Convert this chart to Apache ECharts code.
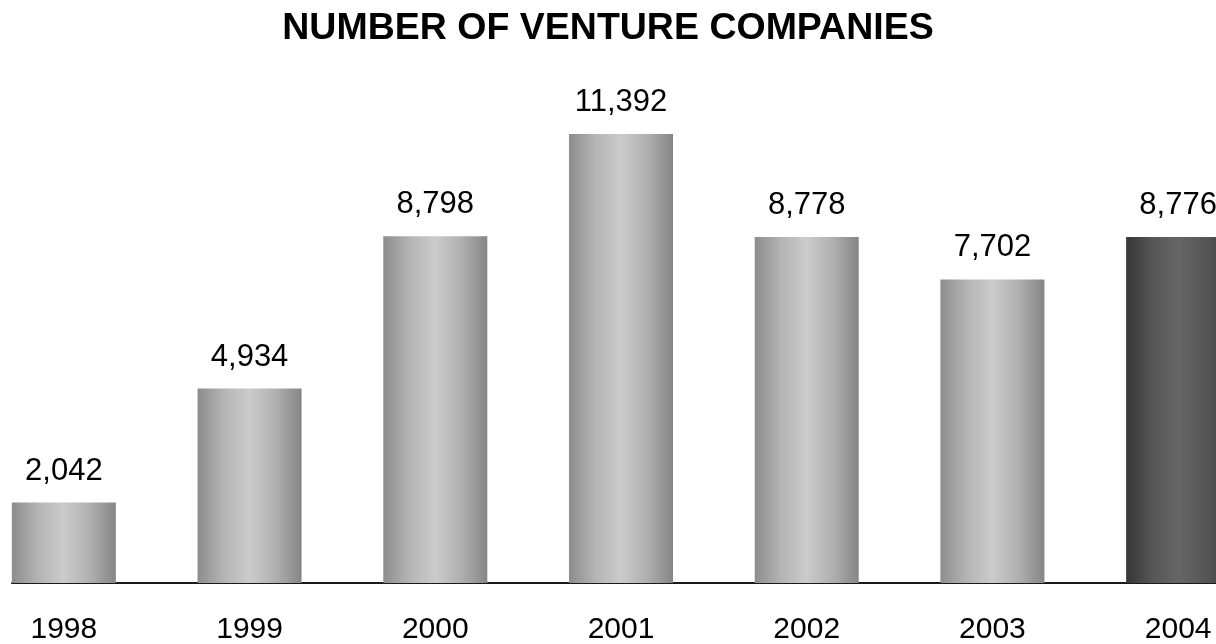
<!DOCTYPE html>
<html>
<head>
<meta charset="utf-8">
<title>Number of venture companies</title>
<script src="https://cdn.jsdelivr.net/npm/echarts@6/dist/echarts.min.js"></script>
<style>
    html, body {
        margin: 0;
        padding: 0;
        background: #fff;
    }
    #chart {
        width: 1216px;
        height: 644px;
    }
</style>
</head>
<body>
<div id="chart"></div>
<script>
// chart data
const years = ["1998", "1999", "2000", "2001", "2002", "2003", "2004"];
const companies = [2042, 4934, 8798, 11392, 8778, 7702, 8776];

// last year is drawn darker
const latestIndex = years.length - 1;

function barGradient(dark) {
    const stops = dark
        ? ["#363636", "#555555", "#666666", "#575757", "#404040"]
        : ["#8c8c8c", "#b4b4b4", "#cbcbcb", "#b0b0b0", "#858585"];
    return new echarts.graphic.LinearGradient(0, 0, 1, 0, [
        { offset: 0, color: stops[0] },
        { offset: 0.25, color: stops[1] },
        { offset: 0.5, color: stops[2] },
        { offset: 0.75, color: stops[3] },
        { offset: 1, color: stops[4] }
    ]);
}

const barData = companies.map((v, i) => ({
    value: v,
    itemStyle: { color: barGradient(i === latestIndex) }
}));

const font = "'Liberation Sans', Arial, Helvetica, sans-serif";

const chart = echarts.init(document.getElementById("chart"), null, { renderer: "canvas" });

chart.setOption({
    animation: false,
    backgroundColor: "#fff",
    title: {
        text: "NUMBER OF VENTURE COMPANIES",
        left: "center",
        top: 5,
        textStyle: {
            fontFamily: font,
            fontSize: 37.5,
            fontWeight: "bold",
            color: "#000"
        }
    },
    grid: [
        // only carries the base line
        { left: 12, right: 0, top: 110, height: 473, outerBoundsMode: "none" },
        // bars, wider than the page so the last bar is cut off
        { left: -29, width: 1300, top: 110, height: 473, outerBoundsMode: "none" }
    ],
    xAxis: [
        {
            gridIndex: 0,
            type: "value",
            min: 0,
            max: 1,
            axisLine: { show: true, onZero: false, lineStyle: { color: "#1a1a1a", width: 2 } },
            axisTick: { show: false },
            axisLabel: { show: false },
            splitLine: { show: false }
        },
        {
            gridIndex: 1,
            type: "category",
            data: years,
            axisLine: { show: false },
            axisTick: { show: false },
            axisLabel: {
                margin: 32,
                color: "#000",
                fontFamily: font,
                fontSize: 30
            }
        }
    ],
    yAxis: [
        { gridIndex: 0, type: "value", min: 0, max: 1, show: false },
        { gridIndex: 1, type: "value", min: 0, max: 12000, show: false }
    ],
    series: [
        {
            type: "bar",
            xAxisIndex: 1,
            yAxisIndex: 1,
            barWidth: 104,
            data: barData,
            label: {
                show: true,
                position: "top",
                distance: 16,
                color: "#000",
                fontFamily: font,
                fontSize: 31,
                formatter: p => p.value.toLocaleString("en-US")
            }
        }
    ]
});
</script>
</body>
</html>
